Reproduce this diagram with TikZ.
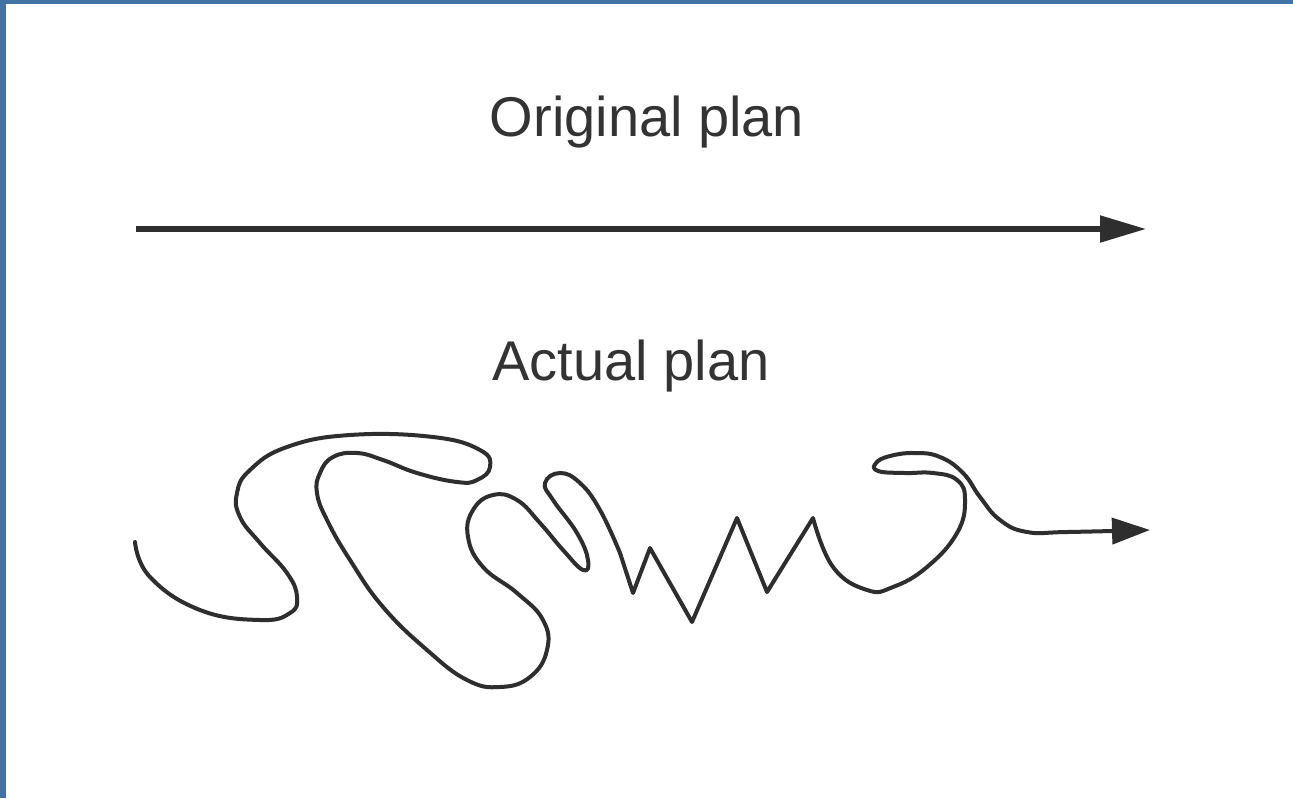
\documentclass[tikz,border=0pt]{standalone}
\usepackage{fontspec}
\setmainfont{Liberation Sans}
\usetikzlibrary{arrows.meta}
\definecolor{PlanInk}{HTML}{2E2E2E}
\definecolor{PlanText}{HTML}{333333}
\definecolor{PlanFrame}{HTML}{4373A3}
\tikzset{
  plan label/.style={text=PlanText,font=\fontsize{28}{32}\selectfont,inner sep=0pt},
  plan line/.style={PlanInk,line width=2.6pt},
  wander line/.style={PlanInk,line width=2pt,line join=round,line cap=round}
}

\begin{document}
\begin{tikzpicture}[x=0.5pt,y=-0.5pt]

        \useasboundingbox (0,0) rectangle (1293,798);
        \fill[white] (0,0) rectangle (1293,798);

        % frame strips
        \fill[PlanFrame] (0,0) rectangle (1293,4);
        \fill[PlanFrame] (0,0) rectangle (6,798);

        \node[plan label,anchor=base] (orig) at (647,136) {Original plan};
        \node[plan label,anchor=base] (actual) at (631,380) {Actual plan};

        \coordinate (origStart) at (136,229);
        \coordinate (origEnd) at (1146,229);
        \draw[plan line,-{Triangle[length=23pt,width=13pt]}]
          (origStart) -- (origEnd);

        \coordinate (wanderStart) at (135,542);
        \coordinate (wanderEnd) at (1150,530);

        % the actual path
        \draw[wander line,-{Triangle[length=19pt,width=13pt]}]
          plot[smooth,tension=0.75] coordinates {
            (wanderStart) (150,577) (200,610) (260,620) (290,613) (297,597)
            (287,573) (260,543) (240,517) (237,493) (250,470) (287,447)
            (350,435) (433,437) (480,450) (490,467) (477,480) (457,482)
            (417,473) (383,460) (357,453) (333,457) (320,473) (317,493)
            (327,520) (350,560) (383,607) (427,650) (467,680) (500,687)
            (530,677) (547,650) (543,620) (517,593) (483,567) (468,537)
            (473,510) (493,495) (517,500) (540,523) (563,550) (583,570)
            (588,560) (577,533) (553,500) (545,483) (560,473) (580,483)
            (600,510) (620,553)}
          -- (633,593) -- (650,548) -- (692,622) -- (737,518)
          -- (767,592) -- (813,518)
          -- plot[smooth,tension=0.75] coordinates {
            (813,518) (833,567) (867,590) (893,587) (927,567) (957,533)
            (965,500) (957,480) (933,473) (905,473) (878,471) (876,463)
            (890,456) (915,453) (940,457) (963,473) (980,497) (1000,520)
            (1027,532) (1067,532) (wanderEnd)};

      \end{tikzpicture}
\end{document}
